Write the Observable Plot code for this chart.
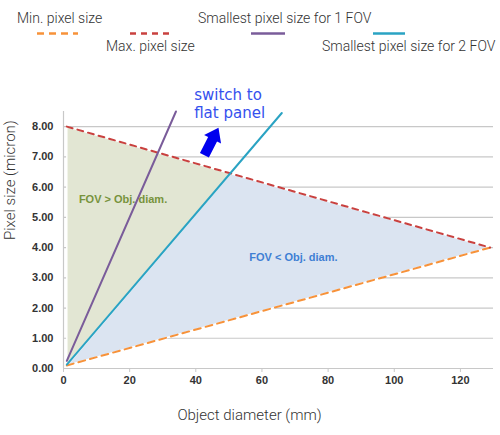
<!DOCTYPE html>
<html>
<head>
<meta charset="utf-8">
<script src="https://cdn.jsdelivr.net/npm/d3@7"></script>
<script src="https://cdn.jsdelivr.net/npm/@observablehq/plot@0.6"></script>
<style>
  body { margin: 0; background: #fff; }
  svg { display: block; }
</style>
</head>
<body>
<div id="legend"></div>
<div id="chart"></div>
<script>
// line end points (object diameter in mm, pixel size in micron)
const lineX      = [1, 129];
const minPixel   = [0.1, 4.0];
const maxPixel   = [8.0, 4.0];
const fov1X      = [1, 34];
const fov1Y      = [0.25, 8.5];
const fov2X      = [1, 66];
const fov2Y      = [0.13, 8.45];

// shaded zones (polygon corners)
const greenX = [1, 1, 50.5, 1];
const greenY = [0.13, 8.0, 6.45, 0.13];
const blueX  = [1, 50.5, 129, 1];
const blueY  = [0.1, 6.45, 4.0, 0.1];

const xTicks = [0, 20, 40, 60, 80, 100, 120];
const yTicks = [0, 1, 2, 3, 4, 5, 6, 7, 8];

const seriesNames = ["Min. pixel size", "Max. pixel size", "Smallest pixel size for 1 FOV", "Smallest pixel size for 2 FOV"];
const colors = ["#f7923a", "#c9413f", "#7a5c9a", "#2aa3c3"];

const pts = (xs, ys) => xs.map((x, i) => ({x, y: ys[i]}));

// legend on top
const lg = d3.select("#legend").append("svg").attr("width", 500).attr("height", 60);
const legendPos = [
  {tx: 17, ty: 23, sx: 37, sw: 41, dash: "7,5"},
  {tx: 106, ty: 51, sx: 130, sw: 42, dash: "6,5"},
  {tx: 198, ty: 23, sx: 251, sw: 34, dash: null},
  {tx: 322, ty: 51, sx: 373, sw: 32, dash: null}
];
seriesNames.forEach((name, i) => {
  const p = legendPos[i];
  lg.append("text").attr("x", p.tx).attr("y", p.ty)
    .attr("font-family", "Roboto, sans-serif").attr("font-weight", 300)
    .attr("font-size", 14).attr("fill", "#333").text(name);
  lg.append("line").attr("x1", p.sx).attr("x2", p.sx + p.sw).attr("y1", 33.5).attr("y2", 33.5)
    .attr("stroke", colors[i]).attr("stroke-width", 2.5)
    .attr("stroke-dasharray", p.dash);
});

// chunky block arrow for the "switch to flat panel" note
const blockArrow = {
  draw(context, l) {
    context.moveTo(-5, 0);
    context.lineTo(-5, -l + 13);
    context.lineTo(-9.5, -l + 13);
    context.lineTo(0, -l);
    context.lineTo(9.5, -l + 13);
    context.lineTo(5, -l + 13);
    context.lineTo(5, 0);
    context.closePath();
  }
};

let chart = Plot.plot({
  width: 500,
  height: 375,
  marginTop: 51,
  marginBottom: 67,
  marginLeft: 63,
  marginRight: 7,
  style: {
    fontFamily: "Liberation Sans, Arial, sans-serif",
    color: "#333"
  },
  x: { domain: [0, 130] },
  y: { domain: [0, 8.5] },
  marks: [
    Plot.gridY(yTicks, { stroke: "#c8c8c8", strokeOpacity: 1, strokeWidth: 1.2 }),
    Plot.ruleX([0], { y1: 0, y2: 8.5, stroke: "#c8c8c8", strokeWidth: 1.2 }),
    Plot.line(pts(greenX, greenY), { x: "x", y: "y", fill: "#e2e6d3", stroke: "white", strokeWidth: 1.5 }),
    Plot.line(pts(blueX, blueY), { x: "x", y: "y", fill: "#dbe4f1", stroke: "white", strokeWidth: 1.5 }),
    Plot.line(pts(lineX, minPixel), { x: "x", y: "y", stroke: colors[0], strokeWidth: 2, strokeDasharray: "7,5" }),
    Plot.line(pts(lineX, maxPixel), { x: "x", y: "y", stroke: colors[1], strokeWidth: 2, strokeDasharray: "6,5" }),
    Plot.line(pts(fov1X, fov1Y), { x: "x", y: "y", stroke: colors[2], strokeWidth: 2 }),
    Plot.line(pts(fov2X, fov2Y), { x: "x", y: "y", stroke: colors[3], strokeWidth: 2 }),
    Plot.text(["FOV > Obj. diam."], { x: 18, y: 5.6, fontSize: 11, fontWeight: "bold", fill: "#77933c" }),
    Plot.text(["FOV < Obj. diam."], { x: 69.5, y: 3.66, fontSize: 11, fontWeight: "bold", fill: "#3f7fd4" }),
    Plot.text(["switch to\nflat panel"], {
      x: 39.5, y: 9.3, textAnchor: "start", lineAnchor: "top", lineHeight: 1.2,
      fontSize: 15, fill: "#3550ee", fontFamily: "DejaVu Sans, sans-serif"
    }),
    Plot.vector([0], { x: 42.6, y: 7.05, rotate: 27, length: 31, anchor: "start", shape: blockArrow, fill: "#0000ee", stroke: "none" }),
    Plot.axisY({ ticks: yTicks, tickFormat: d => d.toFixed(2), tickSize: 0, tickPadding: 10, fontSize: 11, fontWeight: "bold", label: null }),
    Plot.axisX({ ticks: xTicks, tickSize: 4, tickPadding: 4, fontSize: 11, fontWeight: "bold", label: null, stroke: "#c8c8c8" }),
    Plot.text(["Object diameter (mm)"], { frameAnchor: "bottom", dx: -29, dy: 51, fontSize: 15, fontFamily: "Roboto, sans-serif", fontWeight: 300 }),
    Plot.text(["Pixel size (micron)"], { frameAnchor: "left", dx: -53, rotate: -90, fontSize: 15, fontFamily: "Roboto, sans-serif", fontWeight: 300 })
  ]
});

d3.select("#chart").append(() => chart);
</script>
</body>
</html>
